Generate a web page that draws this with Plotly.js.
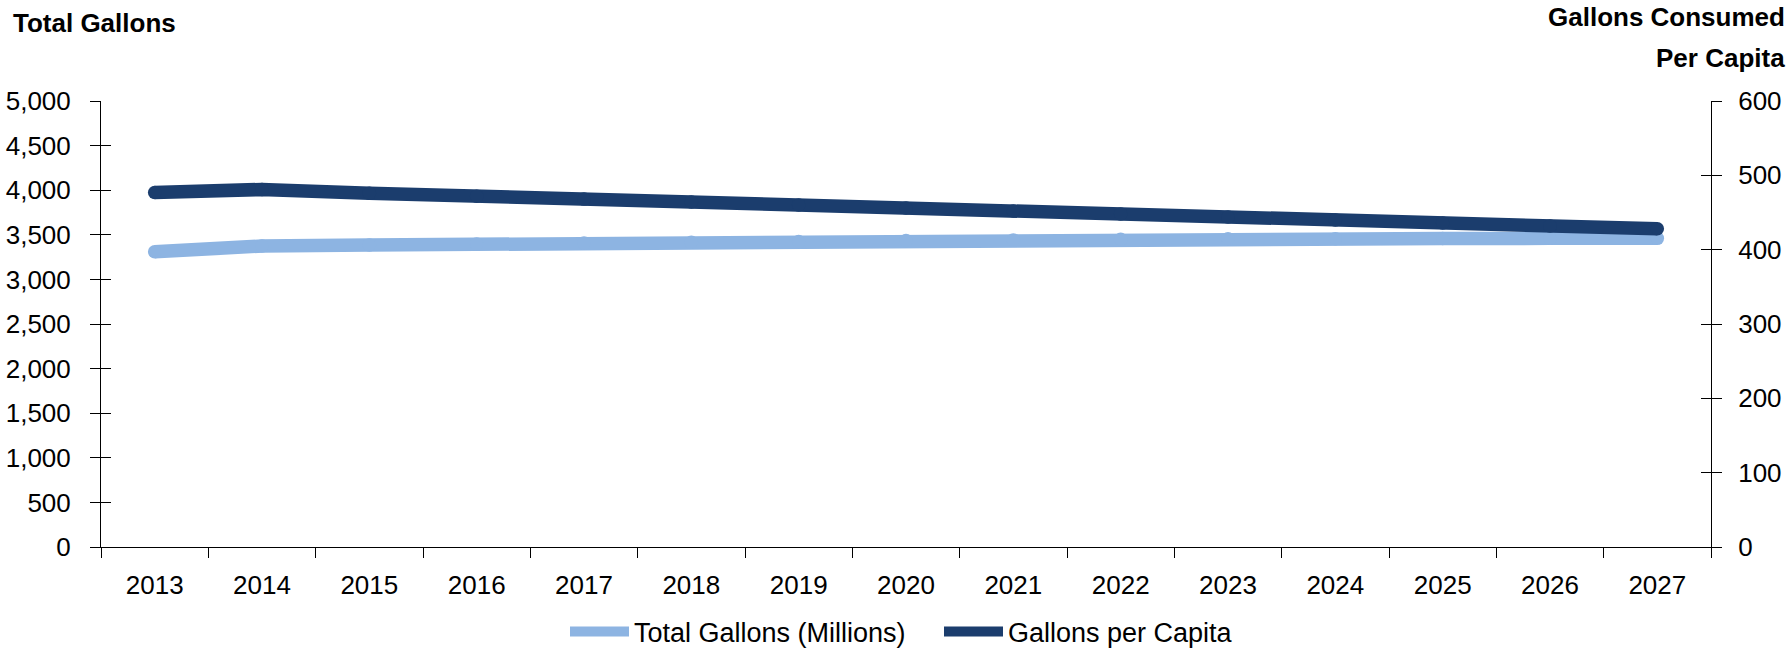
<!DOCTYPE html>
<html>
<head>
<meta charset="utf-8">
<script src="https://cdn.plot.ly/plotly-3.0.1.min.js"></script>
<style>
html, body { margin: 0; padding: 0; background: #ffffff; }
#chart { width: 1789px; height: 649px; }
</style>
</head>
<body>
<div id="chart"></div>
<script>
// ---- data ----
const years = ['2013','2014','2015','2016','2017','2018','2019','2020','2021','2022','2023','2024','2025','2026','2027'];
const totalGallons = [3310, 3374, 3386, 3397, 3407, 3417, 3426, 3435, 3443, 3451, 3455, 3457, 3459, 3460, 3460];
const gallonsPerCapita = [477, 481, 476, 472, 468, 464, 460, 456, 452, 448, 444, 440, 436, 432, 428];
const leftTicks = [0, 500, 1000, 1500, 2000, 2500, 3000, 3500, 4000, 4500, 5000];
const rightTicks = [0, 100, 200, 300, 400, 500, 600];
const seriesNames = ['Total Gallons (Millions)', 'Gallons per Capita'];
const leftTitle = 'Total Gallons';
const rightTitleLines = ['Gallons Consumed', 'Per Capita'];

// ---- style ----
const FONT = "'Liberation Sans', Arial, sans-serif";
const FS = 26;
const LIGHT = '#8DB4E2';
const DARK = '#1B3D6D';
const LW = 13.5;

const W = 1789, H = 649;
const M = { l: 101, r: 78, t: 101, b: 102 };
const PW = W - M.l - M.r, PH = H - M.t - M.b;
const px2x = p => (p - M.l) / PW;
const py2y = p => (H - M.b - p) / PH;

const traces = [
  {
    x: years, y: totalGallons, name: seriesNames[0], type: 'scatter',
    mode: 'lines', yaxis: 'y', line: { color: LIGHT, width: LW }, hoverinfo: 'x+y'
  },
  {
    x: years, y: totalGallons, name: seriesNames[0], type: 'scatter',
    mode: 'markers', yaxis: 'y', marker: { color: LIGHT, size: LW },
    showlegend: false, hoverinfo: 'skip'
  },
  {
    x: years, y: gallonsPerCapita, name: seriesNames[1], type: 'scatter',
    mode: 'lines', yaxis: 'y2', line: { color: DARK, width: LW }, hoverinfo: 'x+y'
  },
  {
    x: years, y: gallonsPerCapita, name: seriesNames[1], type: 'scatter',
    mode: 'markers', yaxis: 'y2', marker: { color: DARK, size: LW },
    showlegend: false, hoverinfo: 'skip'
  },
  { x: [], y: [], yaxis: 'y3', showlegend: false, hoverinfo: 'skip', type: 'scatter' },
  { x: [], y: [], yaxis: 'y4', showlegend: false, hoverinfo: 'skip', type: 'scatter' }
];

const tickFont = { family: FONT, size: FS, color: '#000' };

const baseY = {
  showgrid: false, zeroline: false, showline: true, linecolor: '#000', linewidth: 1,
  ticks: 'outside', ticklen: 10, tickwidth: 1, tickcolor: '#000',
  tickfont: tickFont, fixedrange: true
};

const layout = {
  width: W, height: H,
  margin: { l: M.l, r: M.r, t: M.t, b: M.b, pad: 0, autoexpand: false },
  paper_bgcolor: '#fff', plot_bgcolor: '#fff',
  font: { family: FONT, color: '#000' },
  showlegend: true,
  xaxis: {
    type: 'category', range: [-0.5, years.length - 0.5],
    tickson: 'boundaries', ticks: 'outside', ticklen: 10, tickwidth: 1, tickcolor: '#000',
    showline: true, linecolor: '#000', linewidth: 1, showgrid: false, zeroline: false,
    tickfont: tickFont, fixedrange: true, ticklabelstandoff: 15
  },
  yaxis: Object.assign({}, baseY, {
    range: [0, 5000], tickvals: leftTicks,
    ticktext: leftTicks.map(v => v.toLocaleString('en-US')),
    side: 'left', ticklabelstandoff: 14
  }),
  yaxis2: Object.assign({}, baseY, {
    range: [0, 600], tickvals: rightTicks, ticktext: rightTicks.map(String),
    side: 'right', overlaying: 'y', ticklabelstandoff: 11
  }),
  yaxis3: {
    range: [0, 5000], tickvals: leftTicks, overlaying: 'y', side: 'left',
    ticks: 'inside', ticklen: 10, tickwidth: 1, tickcolor: '#000',
    showticklabels: false, showline: false, showgrid: false, zeroline: false, fixedrange: true
  },
  yaxis4: {
    range: [0, 600], tickvals: rightTicks, overlaying: 'y', side: 'right',
    ticks: 'inside', ticklen: 10, tickwidth: 1, tickcolor: '#000',
    showticklabels: false, showline: false, showgrid: false, zeroline: false, fixedrange: true
  },
  legend: {
    orientation: 'h', xref: 'container', yref: 'container',
    x: 565 / W, xanchor: 'left', y: 1 - 632 / H, yanchor: 'middle',
    font: { family: FONT, size: 27, color: '#000' }, bgcolor: 'rgba(0,0,0,0)',
    borderwidth: 0, itemwidth: 59, entrywidth: 300, entrywidthmode: 'pixels'
  },
  annotations: [
    { text: '<b>' + leftTitle + '</b>', xref: 'paper', yref: 'paper',
      x: px2x(11), xanchor: 'left', y: py2y(22.5), yanchor: 'middle',
      showarrow: false, font: { family: FONT, size: FS, color: '#000' } },
    { text: '<b>' + rightTitleLines[0] + '</b>', xref: 'paper', yref: 'paper',
      x: px2x(1787), xanchor: 'right', y: py2y(17.5), yanchor: 'middle',
      showarrow: false, font: { family: FONT, size: FS, color: '#000' } },
    { text: '<b>' + rightTitleLines[1] + '</b>', xref: 'paper', yref: 'paper',
      x: px2x(1787), xanchor: 'right', y: py2y(57.5), yanchor: 'middle',
      showarrow: false, font: { family: FONT, size: FS, color: '#000' } }
  ]
};

Plotly.newPlot('chart', traces, layout, { displayModeBar: false, staticPlot: true });
</script>
</body>
</html>
